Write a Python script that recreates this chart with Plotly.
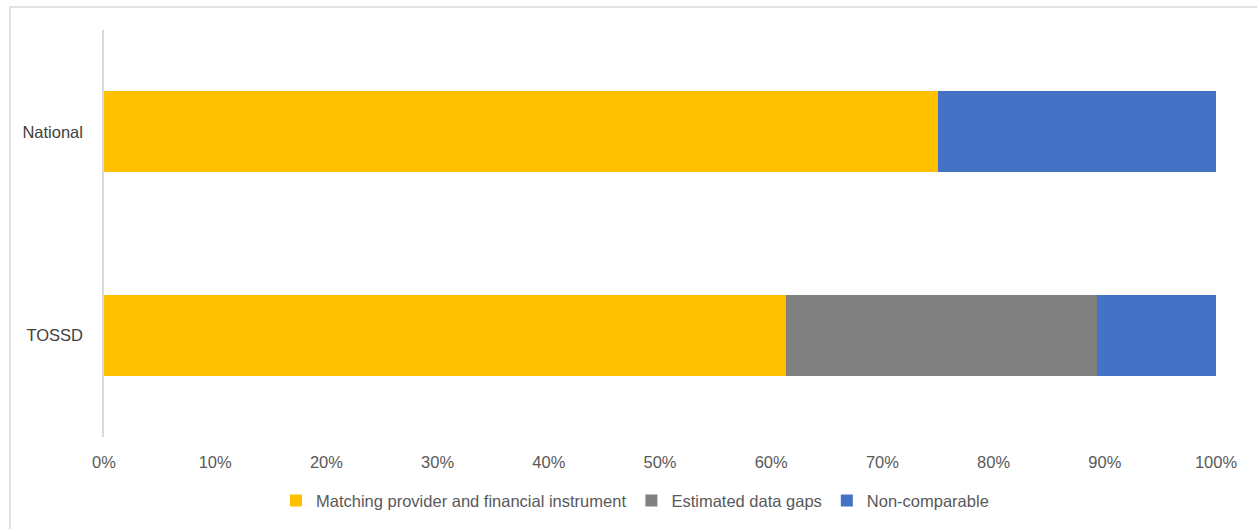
import plotly.graph_objects as go

# Share of flows by comparability status, per data source
sources = ["National", "TOSSD"]
series_names = [
    "Matching provider and financial instrument",
    "Estimated data gaps",
    "Non-comparable",
]
matching = [0.75, 0.613]
data_gaps = [0.0, 0.280]
non_comparable = [0.25, 0.107]
colors = ["#FFC000", "#808080", "#4472C4"]

tick_vals = [i / 10 for i in range(11)]

fig = go.Figure()
for name, vals, col in zip(series_names, [matching, data_gaps, non_comparable], colors):
    fig.add_trace(go.Bar(
        y=sources, x=vals, name=name, orientation="h",
        marker=dict(color=col, line=dict(width=0)),
        hoverinfo="x+name",
    ))

font_family = "Liberation Sans, Arial, sans-serif"
fs = 16.5

fig.update_layout(
    barmode="stack",
    bargap=0.6,
    width=1257, height=529,
    margin=dict(l=104, r=41, t=30, b=91),
    paper_bgcolor="white", plot_bgcolor="white",
    font=dict(family=font_family, size=fs, color="#595959"),
    showlegend=True,
    legend=dict(
        orientation="h", x=0.4775, xanchor="center", y=-0.154, yanchor="middle",
        font=dict(size=fs, color="#595959"),
        traceorder="normal", itemwidth=30,
    ),
    xaxis=dict(
        range=[0, 1], tickvals=tick_vals, tickformat=".0%",
        showgrid=False, zeroline=False, showline=False, ticks="",
        ticklabelstandoff=13,
        tickfont=dict(size=fs, color="#595959"),
    ),
    yaxis=dict(
        categoryorder="array", categoryarray=sources, autorange="reversed",
        showgrid=False, zeroline=False, showline=True, linecolor="#d9d9d9",
        linewidth=1.5, ticks="", ticklabelstandoff=16,
        tickfont=dict(size=fs, color="#404040"),
    ),
    shapes=[dict(
        type="rect", xref="paper", yref="paper",
        x0=-0.0845, x1=1.2, y0=-0.4, y1=1.0564,
        line=dict(color="#d9d9d9", width=1.5), fillcolor="rgba(0,0,0,0)",
        layer="below",
    )],
)

fig.write_html("out.html")
